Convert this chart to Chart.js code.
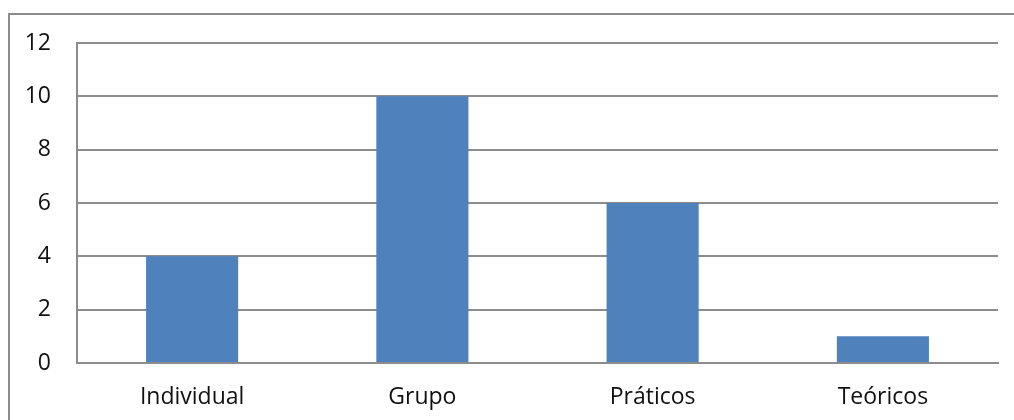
<!DOCTYPE html>
<html>
<head>
<meta charset="utf-8">
<script src="https://cdn.jsdelivr.net/npm/chart.js@4"></script>
<style>
  html, body { margin: 0; padding: 0; background: #fff; overflow: hidden; }
  #frame {
    position: absolute; left: 8px; top: 13px; width: 1010px; height: 420px;
    border: 2px solid #8c8c8c; border-right: none; border-bottom: none;
  }
  #wrap { position: absolute; left: 0; top: 0; width: 1014px; height: 420px; }
</style>
</head>
<body>
<div id="frame"></div>
<div id="wrap"><canvas id="chart" width="1014" height="420"></canvas></div>
<script>
// Bar chart: counts per category
const categories = ['Individual', 'Grupo', 'Práticos', 'Teóricos'];
const values = [4, 10, 6, 1];
const yTicks = [0, 2, 4, 6, 8, 10, 12];

const gridColor = '#8c8c8c';
const fontSpec = { family: "'Open Sans', sans-serif", size: 23 };

const ctx = document.getElementById('chart').getContext('2d');
new Chart(ctx, {
  type: 'bar',
  data: {
    labels: categories,
    datasets: [{
      label: 'Series 1',
      data: values,
      backgroundColor: '#4f81bd',
      borderWidth: 0,
      categoryPercentage: 1,
      barPercentage: 0.4
    }]
  },
  options: {
    responsive: false,
    animation: false,
    layout: { padding: { top: 43, right: 16, left: 0, bottom: 0 } },
    plugins: {
      legend: { display: false },
      tooltip: { enabled: false }
    },
    scales: {
      x: {
        grid: { display: false, drawTicks: false },
        border: { display: true, color: gridColor, width: 2 },
        ticks: { color: '#111', font: fontSpec, padding: 21, maxRotation: 0 },
        afterFit: (scale) => { scale.height = 57; }
      },
      y: {
        min: yTicks[0],
        max: yTicks[yTicks.length - 1],
        afterBuildTicks: (scale) => { scale.ticks = yTicks.map(v => ({ value: v })); },
        grid: { color: gridColor, lineWidth: 2, drawTicks: false },
        border: { display: true, color: gridColor, width: 2 },
        ticks: { color: '#111', font: fontSpec, padding: 26 },
        afterFit: (scale) => { scale.width = 77; }
      }
    }
  }
});
</script>
</body>
</html>
